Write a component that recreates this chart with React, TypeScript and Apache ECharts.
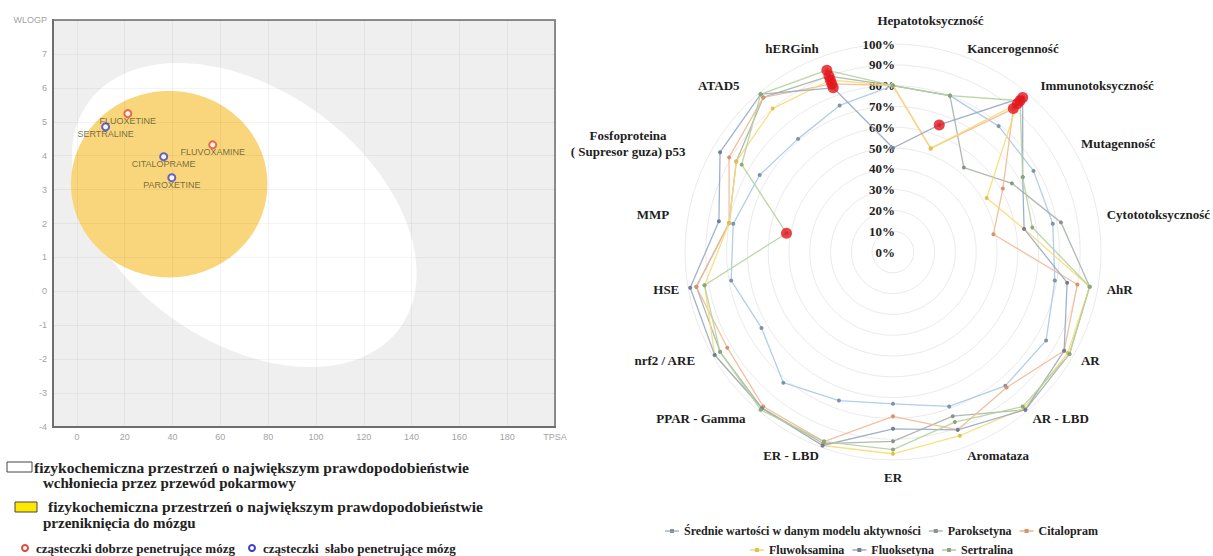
import React, { useEffect, useRef } from 'react';
import * as echarts from 'echarts';

// ---------- BOILED-Egg (left) ----------
const moleculeNames = ['FLUOXETINE', 'SERTRALINE', 'FLUVOXAMINE', 'CITALOPRAME', 'PAROXETINE'];
const moleculeTPSA = [21.3, 12.0, 56.8, 36.3, 39.7];
const moleculeWLOGP = [5.24, 4.85, 4.32, 3.97, 3.35];
const moleculeBrain = ['good', 'poor', 'good', 'poor', 'poor'];

const xTickValues = [0, 20, 40, 60, 80, 100, 120, 140, 160, 180, 200];

// ellipse: centre + two conjugate semi-diameters, in data units (TPSA, WLOGP)
const hiaEllipse = [70.0, 2.25, 65.0, -3.34, -31.2, -2.99];
const bbbEllipse = [38.6, 3.16, 41.1, 0, 0, 2.75];

// ---------- Radar (right) ----------
const indicatorNames = [
  'Hepatotoksyczność', 'Kancerogenność', 'Immunotoksyczność', 'Mutagenność', 'Cytototoksyczność',
  'AhR', 'AR', 'AR - LBD', 'Aromataza', 'ER', 'ER - LBD', 'PPAR - Gamma', 'nrf2 / ARE', 'HSE',
  'MMP', 'Fosfoproteina\n( Supresor guza) p53', 'ATAD5', 'hERGinh',
];
const radarTicks = [0, 10, 20, 30, 40, 50, 60, 70, 80, 90, 100];

const seriesNames = [
  'Średnie wartości w danym modelu aktywności', 'Paroksetyna', 'Citalopram',
  'Fluwoksamina', 'Fluoksetyna', 'Sertralina',
];
const sredniaValues = [80, 80, 79, 78, 78, 79, 85, 84, 79, 73, 76, 82, 73, 79, 78, 74, 71, 75];
const paroksetynaValues = [80, 80, 53, 66, 82, 96, 98, 99, 84, 91, 98, 98, 96, 96, 80, 87, 97, 90];
const citalopramValues = [80, 53, 90, 61, 49, 90, 95, 85, 91, 79, 97, 97, 92, 96, 80, 91, 97, 86];
const fluwoksaminaValues = [80, 53, 93, 52, 64, 96, 97, 98, 94, 97, 99, 98, 99, 92, 80, 87, 90, 88];
const fluoksetynaValues = [50, 65, 97, 72, 64, 85, 95, 99, 91, 85, 99, 98, 99, 99, 85, 96, 99, 84];
const sertralinaValues = [80, 80, 95, 72, 68, 96, 98, 97, 87, 95, 97, 99, 96, 92, 52, 84, 99, 93];
const allSeriesValues = [
  sredniaValues, paroksetynaValues, citalopramValues,
  fluwoksaminaValues, fluoksetynaValues, sertralinaValues,
];
// highlighted (red) points: [series index, indicator index]
const redMarks = [
  [4, 1], [4, 2], [3, 2], [2, 2], [5, 2],
  [5, 17], [1, 17], [3, 17], [2, 17], [4, 17],
  [5, 14],
];

const lineColors = ['#a9c9e8', '#a9b3a6', '#f2b894', '#f7dc74', '#98a9c4', '#b6d29c'];
const dotColors = ['#7f93a8', '#8a938a', '#d9926a', '#e2c24a', '#6f7f99', '#8aa878'];

function ellipseSeries(e: number[], fill: string, z: number) {
  return {
    type: 'custom',
    coordinateSystem: 'cartesian2d',
    silent: true,
    z,
    clip: true,
    data: [[e[0], e[1]]],
    renderItem: (_params: any, api: any) => {
      const pts: number[][] = [];
      const n = 160;
      for (let k = 0; k < n; k++) {
        const t = (k / n) * Math.PI * 2;
        pts.push(api.coord([
          e[0] + e[2] * Math.cos(t) + e[4] * Math.sin(t),
          e[1] + e[3] * Math.cos(t) + e[5] * Math.sin(t),
        ]));
      }
      return { type: 'polygon', shape: { points: pts }, style: { fill } };
    },
  };
}

const serif = 'Liberation Serif, Times New Roman, serif';
const sans = 'Liberation Sans, Arial, sans-serif';

// label nudges for the radar's axis names (rich-text style keys)
const nameStyleKey: Record<string, string> = {
  'Hepatotoksyczność': 'hep',
  'Immunotoksyczność': 'imm',
  'ATAD5': 'atad',
  'MMP': 'mmp',
  'nrf2 / ARE': 'nrf',
  'PPAR - Gamma': 'ppar',
};

export default function App() {
  const ref = useRef<HTMLDivElement>(null);
  useEffect(() => {
    document.body.style.margin = '0';
    const chart = echarts.init(ref.current!, undefined, { renderer: 'svg' });

    // radar goes counter-clockwise in ECharts: reverse all but the first
    const reorder = <T,>(arr: T[]) => [arr[0], ...arr.slice(1).reverse()];

    const legendIcon = 'path://M0,3H5V1.5H9V3H14V4H9V5.5H5V4H0Z';
    const nameFont = { fontFamily: serif, fontWeight: 'bold', fontSize: 13, color: '#1e1e1e', lineHeight: 16 };

    const lt = (text: string, x: number, y: number, size: number) => ({
      type: 'text', x, y,
      style: { text, font: `bold ${size}px ${serif}`, fill: '#222', verticalAlign: 'middle' },
    });

    const option: any = {
      animation: false,
      backgroundColor: '#ffffff',
      grid: {
        left: 53, top: 20, width: 502, height: 407,
        show: true, backgroundColor: '#efefef', borderColor: '#8e8e8e', borderWidth: 2,
      },
      xAxis: {
        type: 'value', min: -10, max: 200, z: 3,
        axisLine: { show: true, onZero: false, lineStyle: { color: '#6e6e6e', width: 2 } },
        axisTick: { show: false, customValues: xTickValues },
        axisLabel: {
          customValues: xTickValues,
          formatter: (v: number) => (v === 200 ? 'TPSA' : String(v)),
          color: '#a3a3a3', fontSize: 9, fontFamily: sans, margin: 5,
        },
        splitLine: { show: true, lineStyle: { color: 'rgba(0,0,0,0.045)', width: 1 } },
      },
      yAxis: {
        type: 'value', min: -4, max: 8, interval: 1, z: 3,
        axisLine: { show: true, onZero: false, lineStyle: { color: '#6e6e6e', width: 2 } },
        axisTick: { show: false },
        axisLabel: {
          formatter: (v: number) => (v === 8 ? 'WLOGP' : String(v)),
          color: '#a3a3a3', fontSize: 9, fontFamily: sans, margin: 6,
        },
        splitLine: { show: true, lineStyle: { color: 'rgba(0,0,0,0.045)', width: 1 } },
      },
      radar: {
        center: [893, 252], radius: 208, startAngle: 90, splitNumber: 10, shape: 'circle',
        indicator: reorder(indicatorNames).map((n) => ({ name: n, min: 0, max: 100 })),
        nameGap: 9,
        axisName: {
          ...nameFont,
          formatter: (name: string) => {
            if (name.indexOf('\n') >= 0) {
              return name.split('\n').map((s) => `{p53|${s}}`).join('\n');
            }
            const key = nameStyleKey[name];
            return key ? `{${key}|${name}}` : name;
          },
          rich: {
            hep: { ...nameFont, padding: [0, 0, 14, 75] },
            imm: { ...nameFont, padding: [0, 0, 0, 8] },
            atad: { ...nameFont, padding: [0, 14, 0, 0] },
            mmp: { ...nameFont, padding: [0, 10, 0, 0] },
            nrf: { ...nameFont, padding: [0, 10, 0, 0] },
            ppar: { ...nameFont, padding: [0, 8, 0, 0] },
            p53: { ...nameFont, width: 82, align: 'center', padding: [0, 36, 0, 0] },
          },
        },
        splitLine: { lineStyle: { color: '#ebebeb', width: 1 } },
        splitArea: { show: false },
        axisLine: { show: false },
        axisTick: { show: false },
        axisLabel: { show: false },
      },
      polar: { center: [893, 252], radius: 208 },
      angleAxis: {
        type: 'category', data: indicatorNames, boundaryGap: false, startAngle: 90, clockwise: true, show: false,
      },
      radiusAxis: {
        type: 'value', min: 0, max: 100, interval: 10,
        axisLine: { show: false }, axisTick: { show: false }, splitLine: { show: false },
        axisLabel: {
          customValues: radarTicks,
          formatter: '{value}%', fontFamily: serif, fontWeight: 'bold', fontSize: 13,
          color: '#1e1e1e', margin: -2,
        },
      },
      legend: [
        {
          data: seriesNames.slice(0, 3), left: 660, top: 520, icon: legendIcon,
          itemWidth: 14, itemHeight: 7, itemGap: 8,
          textStyle: { fontFamily: serif, fontWeight: 'bold', fontSize: 12, color: '#222' },
        },
        {
          data: seriesNames.slice(3), left: 745, top: 539, icon: legendIcon,
          itemWidth: 14, itemHeight: 7, itemGap: 8,
          textStyle: { fontFamily: serif, fontWeight: 'bold', fontSize: 12, color: '#222' },
        },
      ],
      series: [
        ellipseSeries(hiaEllipse, '#ffffff', 1),
        ellipseSeries(bbbEllipse, '#f9d67b', 2),
        {
          type: 'scatter', z: 5,
          symbolSize: 7,
          data: moleculeNames.map((n, i) => ({
            name: n,
            value: [moleculeTPSA[i], moleculeWLOGP[i]],
            itemStyle: { borderColor: moleculeBrain[i] === 'good' ? '#e5493b' : '#3c3fd0' },
          })),
          itemStyle: { color: '#ffffff', borderWidth: 2 },
          label: {
            show: true, position: 'bottom', distance: -2, formatter: '{b}',
            color: '#56502f', fontSize: 9, fontFamily: sans,
          },
        },
        {
          type: 'radar',
          symbol: 'circle',
          data: allSeriesValues.map((vals, k) => ({
            name: seriesNames[k],
            value: reorder(vals),
            symbolSize: 4,
            lineStyle: { color: lineColors[k], width: 1.3, opacity: 0.9 },
            itemStyle: { color: dotColors[k] },
          })),
        },
        {
          type: 'scatter', coordinateSystem: 'polar', z: 6,
          symbolSize: 11,
          itemStyle: { color: '#e3141c' },
          data: redMarks.map((m) => [allSeriesValues[m[0]][m[1]], indicatorNames[m[1]]]),
        },
      ],
      graphic: [
        { type: 'rect', shape: { x: 7, y: 462, width: 25, height: 10 }, style: { fill: '#fff', stroke: '#444', lineWidth: 1 } },
        lt('fizykochemiczna przestrzeń o największym prawdopodobieństwie', 34, 467, 15.5),
        lt('wchłoniecia przez przewód pokarmowy', 43, 483, 15),
        { type: 'rect', shape: { x: 15, y: 502, width: 22, height: 10 }, style: { fill: '#ffe800', stroke: '#444', lineWidth: 1 } },
        lt('fizykochemiczna przestrzeń o największym prawdopodobieństwie', 48, 506, 15.5),
        lt('przeniknięcia do mózgu', 43, 523, 15),
        { type: 'circle', shape: { cx: 25, cy: 548, r: 3 }, style: { fill: '#fff', stroke: '#e5493b', lineWidth: 2 } },
        lt('cząsteczki dobrze penetrujące mózg', 36, 548, 13),
        { type: 'circle', shape: { cx: 252, cy: 548, r: 3 }, style: { fill: '#fff', stroke: '#3c3fd0', lineWidth: 2 } },
        lt('cząsteczki  słabo penetrujące mózg', 263, 548, 13),
      ],
    };
    chart.setOption(option);
    return () => chart.dispose();
  }, []);
  return <div ref={ref} style={{ position: 'absolute', left: 0, top: 0, width: 1213, height: 556 }} />;
}
